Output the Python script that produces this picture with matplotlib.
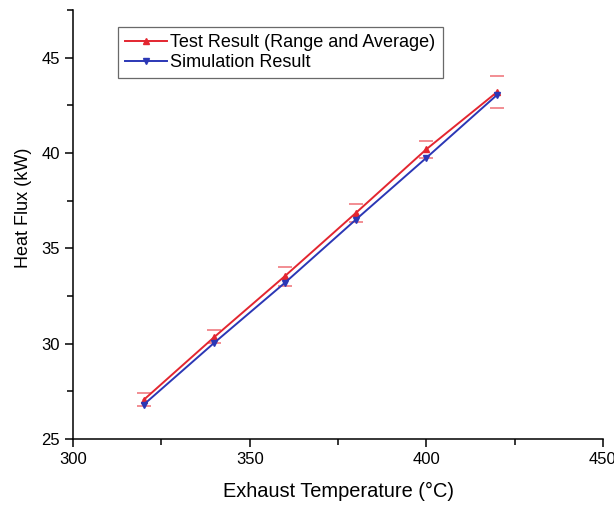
import matplotlib.pyplot as plt
from matplotlib.ticker import MultipleLocator

plt.rcParams['font.family'] = ['Liberation Sans', 'DejaVu Sans']

temperature = [320, 340, 360, 380, 400, 420]
test_result = [27.05, 30.35, 33.55, 36.85, 40.2, 43.2]
test_upper = [27.4, 30.7, 34.0, 37.35, 40.65, 44.05]
test_lower = [26.75, 30.05, 33.05, 36.4, 39.75, 42.35]
simulation = [26.8, 30.05, 33.2, 36.5, 39.75, 43.05]

red = '#e32630'
blue = '#2b37b5'

fig = plt.figure(figsize=(6.14, 5.08), dpi=100)
ax = fig.add_axes([0.119, 0.136, 0.863, 0.844])

err = [[t - lo for t, lo in zip(test_result, test_lower)],
       [hi - t for t, hi in zip(test_result, test_upper)]]
ax.errorbar(temperature, test_result, yerr=err, fmt='none', ecolor='#f07a80',
            elinewidth=0, capsize=5, capthick=1.2)
ax.plot(temperature, test_result, color=red, marker='^', markersize=5, lw=1.4,
        label='Test Result (Range and Average)')
ax.plot(temperature, simulation, color=blue, marker='v', markersize=5, lw=1.4,
        label='Simulation Result')

ax.set_xlim(300, 450)
ax.set_ylim(25, 47.5)
ax.xaxis.set_major_locator(MultipleLocator(50))
ax.xaxis.set_minor_locator(MultipleLocator(25))
ax.yaxis.set_major_locator(MultipleLocator(5))
ax.yaxis.set_minor_locator(MultipleLocator(2.5))
ax.tick_params(which='major', length=6, width=1.1, labelsize=12, direction='out')
ax.tick_params(which='minor', length=4, width=1.1, direction='out')
ax.spines['top'].set_visible(False)
ax.spines['right'].set_visible(False)
for s in ('left', 'bottom'):
    ax.spines[s].set_linewidth(1.1)

ax.set_xlabel('Exhaust Temperature (°C)', fontsize=14.4, labelpad=11)
ax.set_ylabel('Heat Flux (kW)', fontsize=13)
ax.yaxis.set_label_coords(-0.077, 0.54)

leg = ax.legend(loc='upper left', bbox_to_anchor=(0.068, 0.982), fontsize=13,
                frameon=True, fancybox=False, edgecolor='#444444',
                handlelength=2.3, handletextpad=0.2, borderpad=0.4,
                labelspacing=0.15)
leg.get_frame().set_linewidth(0.9)

fig.savefig('out.png', dpi=100)
